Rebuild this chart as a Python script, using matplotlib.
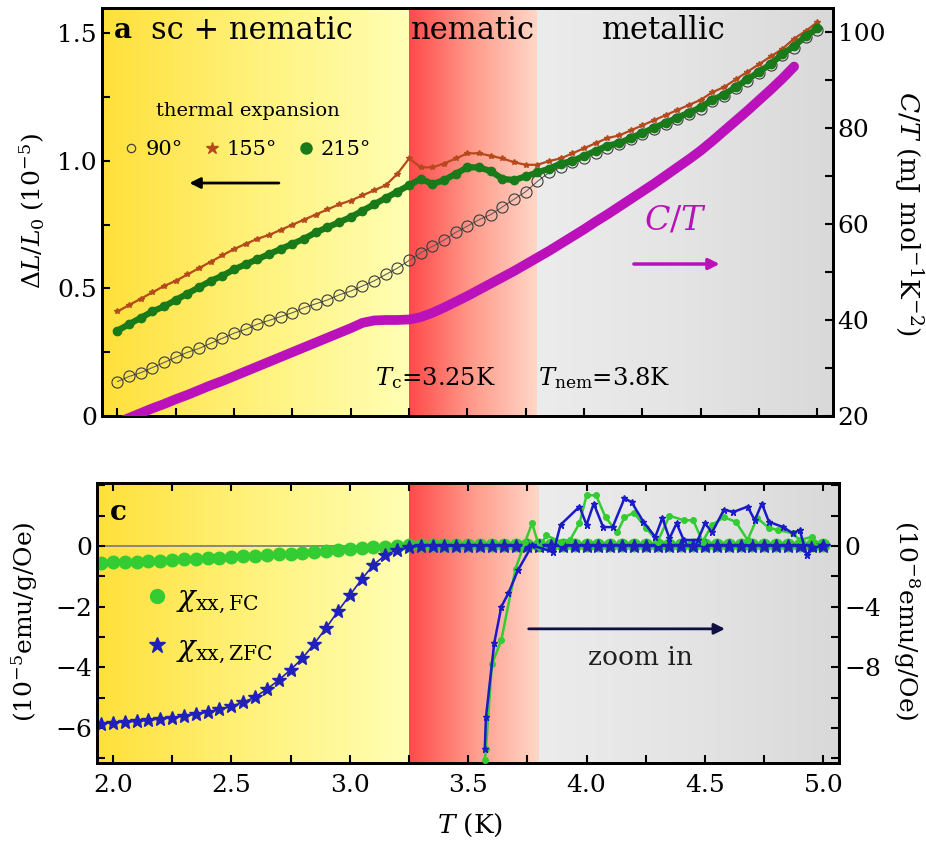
import numpy as np
import matplotlib
matplotlib.use("Agg")
import matplotlib.pyplot as plt
from matplotlib.colors import LinearSegmentedColormap
from matplotlib.ticker import MultipleLocator, FixedLocator, FuncFormatter
from matplotlib.lines import Line2D

plt.rcParams['font.family'] = ['DejaVu Serif']
plt.rcParams['mathtext.fontset'] = 'dejavuserif'

# ---- data ----
T_top = np.round(np.arange(2.0, 5.001, 0.05), 2)

dl_155 = [0.41, 0.435, 0.46, 0.485, 0.51, 0.53, 0.555, 0.58, 0.605, 0.63,
          0.655, 0.675, 0.695, 0.71, 0.73, 0.75, 0.77, 0.79, 0.81, 0.83,
          0.845, 0.865, 0.885, 0.905, 0.95, 1.01, 0.975, 0.975, 0.99, 1.01,
          1.03, 1.03, 1.02, 1.01, 0.995, 0.985, 0.985, 1.00, 1.01, 1.03,
          1.05, 1.07, 1.09, 1.10, 1.12, 1.14, 1.16, 1.18, 1.20, 1.22,
          1.24, 1.27, 1.29, 1.32, 1.35, 1.38, 1.41, 1.44, 1.48, 1.51, 1.545]

dl_215 = [0.335, 0.36, 0.385, 0.41, 0.43, 0.455, 0.48, 0.505, 0.53, 0.55,
          0.575, 0.595, 0.615, 0.635, 0.655, 0.675, 0.695, 0.72, 0.74, 0.76,
          0.78, 0.805, 0.83, 0.855, 0.88, 0.905, 0.93, 0.91, 0.925, 0.95,
          0.975, 0.975, 0.96, 0.93, 0.925, 0.94, 0.955, 0.97, 0.99, 1.00,
          1.02, 1.04, 1.06, 1.07, 1.09, 1.11, 1.13, 1.15, 1.17, 1.19,
          1.21, 1.24, 1.26, 1.29, 1.32, 1.35, 1.38, 1.42, 1.45, 1.49, 1.52]

dl_90 = [0.135, 0.155, 0.17, 0.19, 0.21, 0.23, 0.25, 0.265, 0.285, 0.305,
         0.325, 0.34, 0.36, 0.375, 0.39, 0.405, 0.425, 0.44, 0.455, 0.475,
         0.49, 0.51, 0.53, 0.555, 0.58, 0.61, 0.64, 0.665, 0.69, 0.72,
         0.745, 0.77, 0.79, 0.82, 0.85, 0.88, 0.92, 0.955, 0.975, 0.995,
         1.01, 1.03, 1.05, 1.065, 1.085, 1.105, 1.125, 1.145, 1.165, 1.185,
         1.205, 1.235, 1.255, 1.285, 1.315, 1.345, 1.375, 1.415, 1.445, 1.485, 1.515]

# C/T in mJ mol^-1 K^-2
ct = [18.6, 19.6, 20.6, 21.6, 22.5, 23.5, 24.4, 25.4, 26.4, 27.3,
      28.3, 29.3, 30.3, 31.3, 32.3, 33.3, 34.3, 35.3, 36.3, 37.3,
      38.3, 39.4, 39.9, 40.0, 40.0, 40.1, 40.6, 41.5, 42.6, 43.8,
      45.0, 46.3, 47.6, 48.9, 50.2, 51.6, 53.0, 54.4, 55.9, 57.4,
      58.9, 60.5, 62.0, 63.6, 65.2, 66.8, 68.4, 70.1, 71.8, 73.5,
      75.3, 77.3, 79.4, 81.5, 83.6, 85.8, 88.0, 90.3, 92.8, np.nan, np.nan]

T_bot = np.round(np.arange(1.95, 5.001, 0.05), 2)

chi_fc = [-0.55, -0.53, -0.52, -0.51, -0.49, -0.48, -0.46, -0.44, -0.42, -0.40,
          -0.38, -0.36, -0.34, -0.32, -0.30, -0.27, -0.25, -0.22, -0.19, -0.16,
          -0.13, -0.10, -0.07, -0.04, -0.02, 0.0, 0.02, 0.03, 0.02, 0.03,
          0.02, 0.03, 0.02, 0.02, 0.03, 0.02, 0.03, 0.02, 0.02, 0.03,
          0.02, 0.03, 0.02, 0.02, 0.03, 0.02, 0.03, 0.02, 0.02, 0.03,
          0.02, 0.03, 0.02, 0.02, 0.03, 0.02, 0.03, 0.02, 0.02, 0.03, 0.02, 0.02]

chi_zfc = [-5.85, -5.82, -5.80, -5.78, -5.74, -5.70, -5.66, -5.60, -5.54, -5.47,
           -5.38, -5.28, -5.15, -4.98, -4.72, -4.42, -4.08, -3.70, -3.22, -2.70,
           -2.15, -1.62, -1.10, -0.62, -0.30, -0.12, -0.04, 0.0, 0.01, 0.0,
           -0.01, 0.0, 0.01, 0.0, -0.01, 0.0, 0.01, 0.0, -0.01, 0.0,
           0.01, 0.0, -0.01, 0.0, 0.01, 0.0, -0.01, 0.0, 0.01, 0.0,
           -0.01, 0.0, 0.01, 0.0, -0.01, 0.0, 0.01, 0.0, -0.01, 0.0, 0.01, 0.0]

# zoomed-in curves, 10^-8 emu/g/Oe
zg_T = [3.57, 3.575, 3.60, 3.64, 3.70, 3.74, 3.77, 3.80, 3.83, 3.89, 3.93, 3.97,
        4.00, 4.04, 4.08, 4.13, 4.16, 4.20, 4.25, 4.30, 4.35, 4.41, 4.45, 4.49,
        4.53, 4.58, 4.63, 4.68, 4.72, 4.77, 4.81, 4.87, 4.90, 4.95, 4.97]
zg_v = [-14.1, -13.4, -7.8, -6.2, -1.5, 0.26, 1.5, -0.06, 0.7, 0.3, 0.4, 1.5,
        3.35, 3.35, 1.9, 0.9, 1.9, 2.2, 1.2, 0.3, 2.0, 1.7, 1.7, 0.3,
        1.4, 1.9, 1.6, 0.4, 1.85, 1.2, 1.05, 0.85, 0.4, 0.6, -0.05]

zb_T = [3.57, 3.575, 3.61, 3.64, 3.67, 3.71, 3.77, 3.86, 3.89, 3.97, 4.00, 4.03,
        4.07, 4.11, 4.16, 4.19, 4.24, 4.29, 4.32, 4.35, 4.38, 4.41, 4.47, 4.50,
        4.53, 4.58, 4.62, 4.68, 4.71, 4.74, 4.77, 4.83, 4.87, 4.90, 4.93, 4.96, 4.99]
zb_v = [-13.4, -11.3, -6.4, -4.0, -3.1, -1.6, 0.05, -0.4, 1.4, 2.6, 1.4, 2.8,
        1.25, 1.25, 3.15, 2.9, 1.6, 0.6, 1.85, 0.5, 1.5, 0.4, 0.4, 1.5,
        0.9, 2.4, 2.25, 2.6, 1.7, 2.8, 1.6, 1.25, 0.85, 1.05, -0.6, -0.1, 0.0]

regions = [(1.933, 3.25, ['#FFE03A', '#FFF27C', '#FFFFB4']),
           (3.25, 3.8, ['#FF4A4A', '#FF9C8C', '#FFD8C8']),
           (3.8, 5.066, ['#ECECEC', '#E4E4E4', '#D9D9D9'])]

XLIM = (1.933, 5.066)


def shade(ax, ylo, yhi):
    for x0, x1, cols in regions:
        cmap = LinearSegmentedColormap.from_list('g', cols)
        ax.imshow(np.linspace(0, 1, 256).reshape(1, -1), extent=[x0, x1, ylo, yhi],
                  aspect='auto', cmap=cmap, zorder=0, interpolation='bilinear')


def style(ax):
    for s in ax.spines.values():
        s.set_linewidth(2)
    ax.tick_params(which='both', direction='in', length=6, width=1.5, labelsize=18)


fig = plt.figure(figsize=(9.26, 8.5), dpi=100)

# ---------------- panel a ----------------
ax1 = fig.add_axes([0.110, 0.5106, 0.7894, 0.48])
shade(ax1, 0, 1.6)
ax1.plot(T_top, dl_90, color='#606060', lw=0.8, marker='o', ms=8, mfc='none',
         mec='#3A3A3A', mew=0.8, zorder=2)
ax1.plot(T_top, dl_155, color='#B5491C', lw=1.6, marker='*', ms=4, zorder=3)
ax1.plot(T_top, dl_215, color='#187A18', lw=4.5, marker='o', ms=6, zorder=4)
ax1.set_xlim(XLIM)
ax1.set_ylim(0, 1.6)
ax1.xaxis.set_major_locator(MultipleLocator(0.5))
ax1.xaxis.set_minor_locator(MultipleLocator(0.25))
ax1.yaxis.set_major_locator(FixedLocator([0, 0.5, 1.0, 1.5]))
ax1.yaxis.set_minor_locator(MultipleLocator(0.25))
ax1.yaxis.set_major_formatter(FuncFormatter(lambda v, p: '0' if v == 0 else f'{v:.1f}'))
style(ax1)
ax1.tick_params(labelbottom=False)

ax2 = ax1.twinx()
ax2.plot(T_top, ct, color='#BB11BB', lw=7, solid_capstyle='round', zorder=3)
ax2.set_ylim(20, 105)
ax2.yaxis.set_major_locator(MultipleLocator(20))
ax2.yaxis.set_minor_locator(MultipleLocator(10))
style(ax2)

ax1.text(0.029, 0.946, 'a', transform=ax1.transAxes, fontsize=20, fontweight='bold', ha='center', va='center')
ax1.text(0.205, 0.946, 'sc + nematic', transform=ax1.transAxes, fontsize=22, ha='center', va='center')
ax1.text(0.5075, 0.946, 'nematic', transform=ax1.transAxes, fontsize=22, ha='center', va='center')
ax1.text(0.769, 0.946, 'metallic', transform=ax1.transAxes, fontsize=22, ha='center', va='center')

handles = [Line2D([], [], ls='none', marker='o', ms=6, mfc='none', mec='#404040', mew=0.9),
           Line2D([], [], ls='none', marker='*', ms=9, color='#B5491C'),
           Line2D([], [], ls='none', marker='o', ms=8, color='#187A18')]
ax1.legend(handles, ['90°', '155°', '215°'], ncol=3, title='thermal expansion',
           frameon=False, loc='upper left', bbox_to_anchor=(0.02, 0.79),
           fontsize=15, title_fontsize=14, handlelength=0.6, handletextpad=0.4,
           columnspacing=1.1, borderaxespad=0, labelspacing=0.95)

ax1.annotate('', xy=(0.116, 0.571), xytext=(0.246, 0.571), xycoords='axes fraction',
             arrowprops=dict(arrowstyle='-|>', color='black', lw=2, mutation_scale=16))
ax1.text(0.785, 0.48, r'$C/T$', transform=ax1.transAxes, fontsize=24, color='#BB11BB',
         ha='center', va='center')
ax1.annotate('', xy=(0.849, 0.3725), xytext=(0.724, 0.3725), xycoords='axes fraction',
             arrowprops=dict(arrowstyle='-|>', color='#BB11BB', lw=2.5, mutation_scale=16))
ax1.text(0.3735, 0.093, r'$T_{\rm c}$=3.25K', transform=ax1.transAxes, fontsize=17.5,
         ha='left', va='center')
ax1.text(0.596, 0.093, r'$T_{\rm nem}$=3.8K', transform=ax1.transAxes, fontsize=17.5,
         ha='left', va='center')

# ---------------- panel c ----------------
ax3 = fig.add_axes([0.1048, 0.1024, 0.8013, 0.3294])
shade(ax3, -7.15, 2.08)
ax3.axhline(0, color='#808080', lw=1.3, zorder=1.5)
ax3.plot(T_bot, chi_fc, ls='none', marker='o', ms=9, color='#33CC33', zorder=3)
ax3.plot(T_bot, chi_zfc, color='#2020BB', lw=1.2, marker='*', ms=10, zorder=4)
ax3.set_xlim(XLIM)
ax3.set_ylim(-7.15, 2.08)
ax3.xaxis.set_major_locator(MultipleLocator(0.5))
ax3.xaxis.set_minor_locator(MultipleLocator(0.25))
ax3.xaxis.set_major_formatter(FuncFormatter(lambda v, p: f'{v:.1f}'))
ax3.yaxis.set_major_locator(FixedLocator([-6, -4, -2, 0]))
ax3.yaxis.set_minor_locator(MultipleLocator(1))
ax3.yaxis.set_major_formatter(FuncFormatter(lambda v, p: f'{v:.0f}'.replace('-', '\u2212')))
style(ax3)
ax3.tick_params(which='both', top=True)
ax3.tick_params(axis='x', pad=8)

ax4 = ax3.twinx()
ax4.plot(zg_T, zg_v, color='#33CC33', lw=1.8, marker='o', ms=4, zorder=3)
ax4.plot(zb_T, zb_v, color='#1A1AC8', lw=1.8, marker='*', ms=5, zorder=4)
ax4.set_ylim(-14.3, 4.16)
ax4.yaxis.set_major_locator(FixedLocator([-8, -4, 0]))
ax4.yaxis.set_minor_locator(MultipleLocator(2))
ax4.yaxis.set_major_formatter(FuncFormatter(lambda v, p: f'{v:.0f}'.replace('-', '\u2212')))
style(ax4)

ax3.text(0.028, 0.896, 'c', transform=ax3.transAxes, fontsize=20, fontweight='bold', ha='center', va='center')
h2 = [Line2D([], [], ls='none', marker='o', ms=10, color='#33CC33'),
      Line2D([], [], ls='none', marker='*', ms=12, color='#2020BB')]
ax3.legend(h2, [r'$\chi_{\rm xx,FC}$', r'$\chi_{\rm xx,ZFC}$'], frameon=False,
           loc='upper left', bbox_to_anchor=(0.055, 0.68), fontsize=21,
           handlelength=0.5, handletextpad=0.4, labelspacing=0.6, borderaxespad=0)
ax3.annotate('', xy=(0.850, 0.479), xytext=(0.578, 0.479), xycoords='axes fraction',
             arrowprops=dict(arrowstyle='-|>', color='#101040', lw=2, mutation_scale=16))
ax3.text(0.732, 0.375, 'zoom in', transform=ax3.transAxes, fontsize=19,
         ha='center', va='center', color='#202020')

# axis labels
fig.text(32 / 926, 1 - 211 / 850, r'$\Delta L/L_0\;(10^{-5})$', rotation=90, fontsize=18,
         ha='center', va='center')
fig.text(908 / 926, 1 - 213 / 850, r'$C/T$ (mJ mol$^{-1}$K$^{-2}$)', rotation=270, fontsize=19,
         ha='center', va='center')
fig.text(25 / 926, 1 - 622 / 850, r'(10$^{-5}$emu/g/Oe)', rotation=90, fontsize=18,
         ha='center', va='center')
fig.text(906 / 926, 1 - 620 / 850, r'(10$^{-8}$emu/g/Oe)', rotation=270, fontsize=18,
         ha='center', va='center')
fig.text(470 / 926, 1 - 825 / 850, r'$T$ (K)', fontsize=19, ha='center', va='center')

fig.savefig('out.png', dpi=100)
